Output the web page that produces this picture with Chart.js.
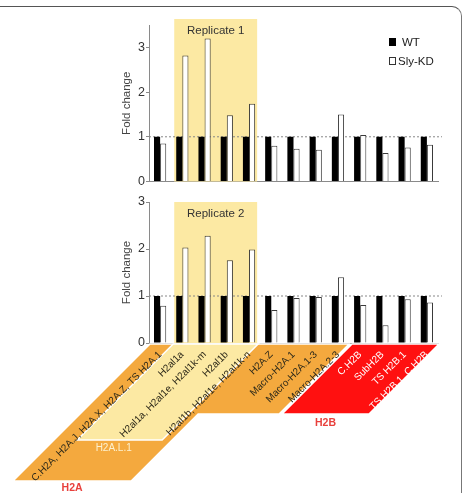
<!DOCTYPE html>
<html>
<head>
<meta charset="utf-8">
<script src="https://cdn.jsdelivr.net/npm/chart.js@4"></script>
<style>
  html, body { margin: 0; padding: 0; background: #fff; }
  body { width: 463px; height: 493px; position: relative; overflow: hidden; }
  #frame { position: absolute; left: -20px; top: 6px; width: 481px; height: 520px;
           border-top: 1.5px solid #555; border-right: 1.5px solid #777; border-top-right-radius: 10px; }
  #rep1 { position: absolute; left: 0; top: 0; }
  #rep2 { position: absolute; left: 0; top: 190px; }
</style>
</head>
<body>
<div id="frame"></div>
<canvas id="rep1" width="463" height="190"></canvas>
<canvas id="rep2" width="463" height="303"></canvas>
<script>
// Data
const categories = [
  'C.H2A, H2A.J, H2A.X, H2A.Z, TS H2A.1',
  'H2al1a',
  'H2al1a, H2al1e, H2al1k-m',
  'H2al1b',
  'H2al1b, H2al1e, H2al1k-n',
  'H2A.Z',
  'Macro-H2A.1',
  'Macro-H2A.1-3',
  'Macro-H2A.2-3',
  'C.H2B',
  'SubH2B',
  'TS H2B.1',
  'TS H2B.1, C.H2B'
];
const wtRep1 = [1, 1, 1, 1, 1, 1, 1, 1, 1, 1, 1, 1, 1];
const kdRep1 = [0.85, 2.82, 3.2, 1.48, 1.74, 0.8, 0.73, 0.71, 1.5, 1.04, 0.64, 0.76, 0.82];
const wtRep2 = [1, 1, 1, 1, 1, 1, 1, 1, 1, 1, 1, 1, 1];
const kdRep2 = [0.79, 2.03, 2.28, 1.76, 1.99, 0.7, 0.96, 0.98, 1.4, 0.81, 0.38, 0.93, 0.86];
const yTicks = [0, 1, 2, 3];

// Groups under the x axis (category index ranges)
const h2aRange = [0, 8];
const h2alRange = [1, 4];
const h2bRange = [9, 12];
const highlightRange = [1, 4];

const FONT = '"Liberation Sans", Arial, sans-serif';
const YELLOW = '#fce9a3';
const ORANGE = '#f4a93e';
const RED = '#ff1010';

// Yellow box behind the replicate bars + dotted line at 1
function highlightPlugin(text, extendTop) {
  return {
    id: 'highlight',
    beforeDatasetsDraw(chart) {
      const { ctx, chartArea, scales: { x, y } } = chart;
      const half = (x.getPixelForValue(1) - x.getPixelForValue(0)) / 2;
      const left = x.getPixelForValue(highlightRange[0]) - half + 3;
      const right = x.getPixelForValue(highlightRange[1]) + half - 3;
      const top = chartArea.top - extendTop;
      ctx.save();
      ctx.fillStyle = YELLOW;
      ctx.fillRect(left, top, right - left, chartArea.bottom - top);
      ctx.fillStyle = '#333';
      ctx.font = '11.5px ' + FONT;
      ctx.textAlign = 'center';
      ctx.textBaseline = 'middle';
      ctx.fillText(text, (left + right) / 2, top + 12);
      // reference line
      const y1 = y.getPixelForValue(1);
      ctx.strokeStyle = '#888';
      ctx.lineWidth = 1;
      ctx.setLineDash([2, 2]);
      ctx.beginPath();
      ctx.moveTo(chartArea.left, y1);
      ctx.lineTo(chartArea.right + 4, y1);
      ctx.stroke();
      ctx.restore();
    }
  };
}

const legendPlugin = {
  id: 'customLegend',
  afterDraw(chart) {
    const { ctx } = chart;
    const ds = chart.data.datasets;
    ctx.save();
    ctx.font = '11.5px ' + FONT;
    ctx.textBaseline = 'middle';
    ctx.fillStyle = '#000';
    ctx.fillRect(389, 38, 7, 8);
    ctx.strokeStyle = '#333';
    ctx.lineWidth = 1;
    ctx.strokeRect(389.5, 57.5, 6, 7);
    ctx.fillStyle = '#222';
    ctx.fillText(ds[0].label, 402, 42.5);
    ctx.fillText(ds[1].label, 398, 61.5);
    ctx.restore();
  }
};

// Skewed group blocks with category labels under the lower chart
const diagramPlugin = {
  id: 'diagram',
  afterDraw(chart) {
    const { ctx, chartArea, scales: { x } } = chart;
    const half = (x.getPixelForValue(1) - x.getPixelForValue(0)) / 2;
    const edgeL = i => x.getPixelForValue(i) - half;
    const edgeR = i => x.getPixelForValue(i) + half;
    const top = chartArea.bottom + 1;
    const pt = (u, d) => [u - d, top + d];
    const poly = (pts, fill) => {
      ctx.beginPath();
      pts.forEach((p, i) => {
        const [px, py] = pt(p[0], p[1]);
        if (i === 0) ctx.moveTo(px, py); else ctx.lineTo(px, py);
      });
      ctx.closePath();
      ctx.fillStyle = fill;
      ctx.fill();
      ctx.strokeStyle = '#fff';
      ctx.lineWidth = 1.5;
      ctx.stroke();
    };
    const dShort = 70, dSub = 96, dLong = 137;
    const aL = edgeL(h2aRange[0]) + 1, aR = edgeR(h2aRange[1]);
    const subL = edgeL(h2alRange[0]) + 2, subR = edgeR(h2alRange[1]) - 2;
    const aB = subR + 10;
    const bL = edgeL(h2bRange[0]) + 3, bR = edgeR(h2bRange[1]) + 1;

    ctx.save();
    poly([[aL, 0], [aR, 0], [aR, dShort], [aB, dShort], [aB, dLong], [aL, dLong]], ORANGE);
    poly([[subL, 0], [subR, 0], [subR, dSub], [subL, dSub]], YELLOW);
    poly([[bL, 0], [bR, 0], [bR, dShort], [bL, dShort]], RED);

    // category labels
    ctx.font = '10px ' + FONT;
    ctx.textAlign = 'right';
    ctx.textBaseline = 'middle';
    categories.forEach((c, i) => {
      ctx.save();
      ctx.translate(x.getPixelForValue(i), top + 9);
      ctx.rotate(-Math.PI / 4);
      ctx.fillStyle = i >= h2bRange[0] ? '#fff' : '#2e2a1a';
      ctx.fillText(c, 0, 0);
      ctx.restore();
    });

    // group names
    ctx.textAlign = 'center';
    ctx.font = '10px ' + FONT;
    ctx.fillStyle = '#fdf1cf';
    ctx.fillText('H2A.L.1', (subL + subR) / 2 - dSub - 6, top + dSub + 8);
    ctx.font = 'bold 10.5px ' + FONT;
    ctx.fillStyle = '#e8403c';
    ctx.fillText('H2A', (aL + aB) / 2 - dLong, top + dLong + 7);
    ctx.fillText('H2B', (bL + bR) / 2 - dShort, top + dShort + 9);
    ctx.restore();
  }
};

function makeChart(id, wt, kd, yMax, padding, plugins) {
  const ctx = document.getElementById(id).getContext('2d');
  return new Chart(ctx, {
    type: 'bar',
    data: {
      labels: categories,
      datasets: [
        {
          label: 'WT',
          data: wt,
          backgroundColor: '#000',
          borderWidth: 0,
          categoryPercentage: 0.55,
          barPercentage: 1
        },
        {
          label: 'Sly-KD',
          data: kd,
          backgroundColor: '#fff',
          borderColor: '#3a3a3a',
          borderWidth: 1,
          categoryPercentage: 0.55,
          barPercentage: 1
        }
      ]
    },
    options: {
      responsive: false,
      animation: false,
      layout: { padding: padding },
      plugins: {
        legend: { display: false },
        tooltip: { enabled: false }
      },
      scales: {
        x: {
          afterFit: s => { s.height = 0; },
          grid: { display: false, drawTicks: false },
          border: { color: '#8a8a8a', width: 1 },
          ticks: { display: false }
        },
        y: {
          min: 0,
          max: yMax,
          afterBuildTicks: s => { s.ticks = yTicks.map(v => ({ value: v })); },
          afterFit: s => { s.width = 33; },
          border: { color: '#8a8a8a', width: 1 },
          grid: { display: true, drawOnChartArea: false, drawTicks: true, tickLength: 3, color: '#8a8a8a' },
          ticks: { color: '#333', font: { size: 12.5, family: FONT }, padding: 1 },
          title: {
            display: true,
            text: 'Fold change',
            color: '#444',
            font: { size: 11.5, family: FONT },
            padding: { top: 4, bottom: 0 }
          }
        }
      }
    },
    plugins: plugins
  });
}

makeChart('rep1', wtRep1, kdRep1, 3.5,
  { left: 116, right: 25, top: 25, bottom: 6 },
  [highlightPlugin('Replicate 1', 6), legendPlugin]);

makeChart('rep2', wtRep2, kdRep2, 3,
  { left: 116, right: 25, top: 12, bottom: 150 },
  [highlightPlugin('Replicate 2', 0), diagramPlugin]);
</script>
</body>
</html>
